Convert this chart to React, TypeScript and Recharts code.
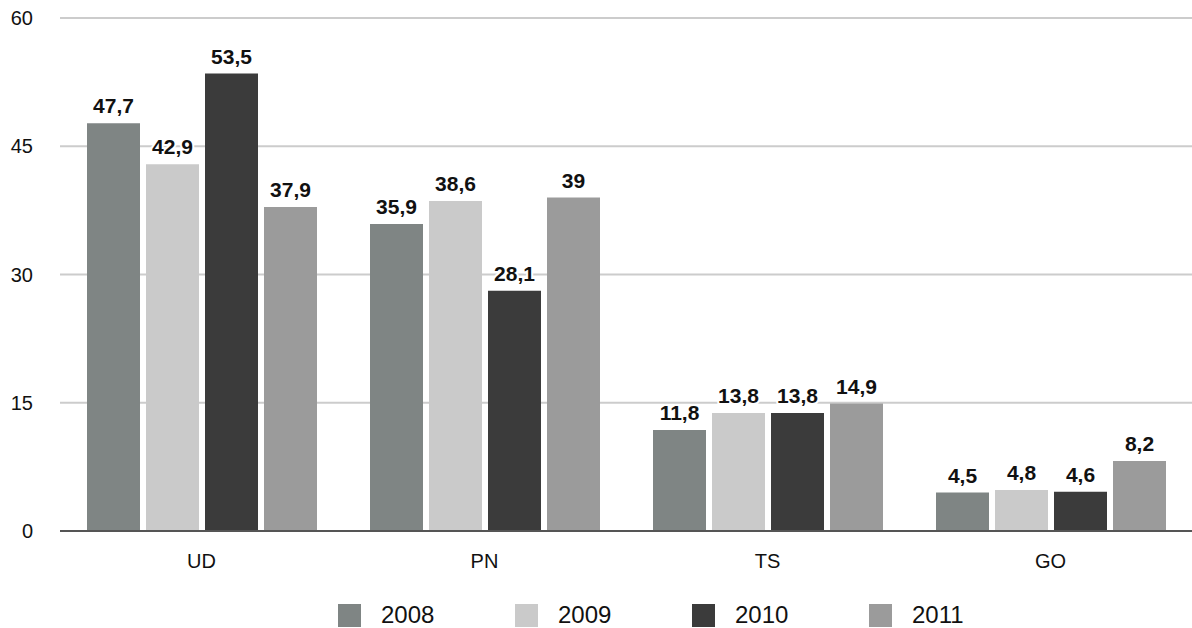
import React from 'react';
import { BarChart, Bar, XAxis, YAxis, CartesianGrid, LabelList, Legend } from 'recharts';

const regions = ['UD', 'PN', 'TS', 'GO'];
const v2008 = [47.7, 35.9, 11.8, 4.5];
const v2009 = [42.9, 38.6, 13.8, 4.8];
const v2010 = [53.5, 28.1, 13.8, 4.6];
const v2011 = [37.9, 39, 14.9, 8.2];
const yTicks = [0, 15, 30, 45, 60];

const series = [
  { key: 'y2008', name: '2008', fill: '#7f8584' },
  { key: 'y2009', name: '2009', fill: '#cacaca' },
  { key: 'y2010', name: '2010', fill: '#3b3b3b' },
  { key: 'y2011', name: '2011', fill: '#9b9b9b' }
];

const data = regions.map((r, i) => ({
  name: r,
  y2008: v2008[i],
  y2009: v2009[i],
  y2010: v2010[i],
  y2011: v2011[i]
}));

const FONT = '"Liberation Sans", Arial, Helvetica, sans-serif';

const ValueLabel = (props: any) => {
  const { x, y, width, value } = props;
  return (
    <text
      x={x + width / 2}
      y={y - 10}
      textAnchor="middle"
      fontFamily={FONT}
      fontSize={21}
      fontWeight="bold"
      fill="#111"
      stroke="#fff"
      strokeWidth={4}
      strokeLinejoin="round"
      paintOrder="stroke"
    >
      {String(value).replace('.', ',')}
    </text>
  );
};

const LegendContent = () => (
  <div
    style={{
      display: 'flex',
      justifyContent: 'flex-start',
      paddingTop: 36,
      paddingLeft: 338,
      fontFamily: FONT,
      fontSize: 24,
      lineHeight: '24px',
      color: '#111'
    }}
  >
    {series.map((s) => (
      <div key={s.key} style={{ display: 'flex', alignItems: 'center', width: 177 }}>
        <span style={{ display: 'inline-block', width: 23, height: 23, background: s.fill, marginRight: 20 }} />
        <span>{s.name}</span>
      </div>
    ))}
  </div>
);

export default function App() {
  return (
    <div style={{ position: 'absolute', left: 0, top: 0, background: '#fff' }}>
      <BarChart
        width={1192}
        height={628}
        data={data}
        margin={{ top: 18, right: 0, left: 0, bottom: 4 }}
        barCategoryGap={27}
        barGap={6}
      >
        <CartesianGrid vertical={false} stroke="#cccccc" strokeWidth={2} />
        <XAxis
          dataKey="name"
          tickLine={false}
          axisLine={{ stroke: '#555', strokeWidth: 2 }}
          tick={{ fontFamily: FONT, fontSize: 20, fill: '#111' }}
          tickMargin={17}
          height={36}
        />
        <YAxis
          domain={[0, 60]}
          ticks={yTicks}
          width={60}
          axisLine={false}
          tickLine={false}
          tickSize={0}
          tickMargin={27}
          tick={{ fontFamily: FONT, fontSize: 20, fill: '#111' }}
        />
        <Legend verticalAlign="bottom" height={57} content={<LegendContent />} />
        {series.map((s) => (
          <Bar key={s.key} dataKey={s.key} name={s.name} fill={s.fill} isAnimationActive={false}>
            <LabelList dataKey={s.key} content={<ValueLabel />} />
          </Bar>
        ))}
      </BarChart>
    </div>
  );
}
